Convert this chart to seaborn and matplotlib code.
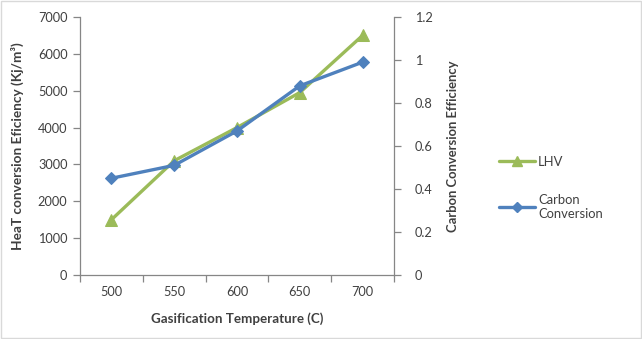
import matplotlib
matplotlib.use("Agg")
import matplotlib.pyplot as plt
import seaborn as sns
import pandas as pd
from matplotlib.patches import Rectangle
from matplotlib.lines import Line2D

temperatures = [500, 550, 600, 650, 700]
lhv = [1500, 3100, 4000, 4950, 6500]
carbon_conversion = [0.45, 0.51, 0.67, 0.88, 0.99]
left_ticks = [0, 1000, 2000, 3000, 4000, 5000, 6000, 7000]
right_ticks = [0, 0.2, 0.4, 0.6, 0.8, 1.0, 1.2]
right_tick_labels = ["0", "0.2", "0.4", "0.6", "0.8", "1", "1.2"]

df = pd.DataFrame({"T": temperatures, "LHV": lhv, "Carbon": carbon_conversion})

sns.set_theme(style="white")
plt.rcParams["font.family"] = ["Lato", "DejaVu Sans"]

GREEN = "#9BBB59"
BLUE = "#4F81BD"
SPINE = "#868686"
TXT = "#404040"

fig = plt.figure(figsize=(6.42, 3.39), dpi=100)
ax = fig.add_axes([80/642, 1-275/339, (394-80)/642, (275-17)/339])
ax2 = ax.twinx()

sns.lineplot(data=df, x="T", y="LHV", ax=ax, color=GREEN, linewidth=2.4,
             marker="^", markersize=9, markeredgecolor=GREEN, zorder=2)
sns.lineplot(data=df, x="T", y="Carbon", ax=ax2, color=BLUE, linewidth=2.4,
             marker="D", markersize=6.5, markeredgecolor=BLUE, zorder=3)

ax.set_xlim(475, 725)
ax.set_ylim(0, 7000)
ax2.set_ylim(0, 1.2)
ax.set_yticks(left_ticks)
ax.set_yticklabels([str(v) for v in left_ticks])
ax2.set_yticks(right_ticks)
ax2.set_yticklabels(right_tick_labels)
ax.set_xticks(temperatures)
ax.set_xticklabels([str(t) for t in temperatures])
ax.set_xticks([475 + 50*i for i in range(6)], minor=True)

for a in (ax, ax2):
    for s in a.spines.values():
        s.set_color(SPINE)
        s.set_linewidth(0.9)
    a.spines["top"].set_visible(False)
    a.grid(False)
ax.spines["right"].set_visible(False)
ax2.spines["left"].set_visible(False)
ax2.spines["bottom"].set_visible(False)

ax.tick_params(axis="x", which="major", length=0, pad=8, labelsize=9.2, labelcolor=TXT)
ax.tick_params(axis="x", which="minor", length=5, width=0.9, color=SPINE, direction="out", bottom=True)
ax.tick_params(axis="y", length=5, width=0.9, color=SPINE, direction="out", left=True,
               labelsize=9.2, labelcolor=TXT, pad=4)
ax2.tick_params(axis="y", length=5, width=0.9, color=SPINE, direction="out", right=True,
                labelsize=9.2, labelcolor=TXT, pad=10)

ax.set_xlabel("Gasification Temperature (C)", fontsize=9.6, fontweight="bold", color=TXT, labelpad=10)
ax.set_ylabel("HeaT conversion Eficiency (Kj/m³)", fontsize=9.8, fontweight="bold", color=TXT, labelpad=10)
ax2.set_ylabel("Carbon Conversion Efficiency", fontsize=9.4, fontweight="bold", color=TXT, labelpad=10)

handles = [
    Line2D([0], [0], color=GREEN, linewidth=2.4, marker="^", markersize=7),
    Line2D([0], [0], color=BLUE, linewidth=2.4, marker="D", markersize=5),
]
fig.legend(handles, ["LHV", "Carbon\nConversion"], loc="upper left",
           bbox_to_anchor=(487/642, 1-144/339), frameon=False, fontsize=9.4,
           labelspacing=2.0, handlelength=2.8, handletextpad=0.2,
           labelcolor=TXT)

fig.patches.append(Rectangle((0.001, 0.002), 0.997, 0.995, transform=fig.transFigure,
                             fill=False, edgecolor="#D9D9D9", linewidth=1))

fig.savefig("out.png", dpi=100)
